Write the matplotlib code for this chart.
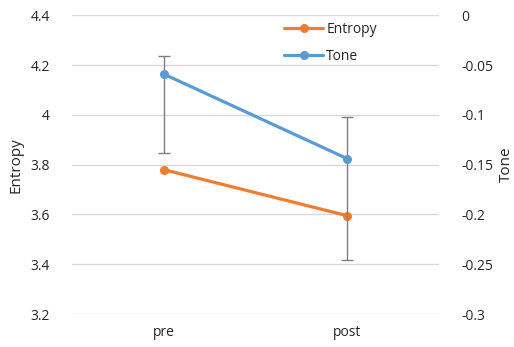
import matplotlib
matplotlib.use('Agg')
import matplotlib.pyplot as plt
from matplotlib.ticker import FuncFormatter

plt.rcParams['font.family'] = ['Open Sans', 'DejaVu Sans']

# data
phases       = ["pre", "post"]
entropy      = [3.78, 3.595]
tone         = [-0.059, -0.144]
tone_err_lo  = [0.0795, 0.1015]
tone_err_hi  = [0.018, 0.042]

entropy_ticks = [3.2, 3.4, 3.6, 3.8, 4.0, 4.2, 4.4]
tone_ticks    = [-0.3, -0.25, -0.2, -0.15, -0.1, -0.05, 0]

orange = "#ED7D31"
blue   = "#5B9BD5"
grid_c = "#D9D9D9"
text_c = "#262626"

fig = plt.figure(figsize=(5.14, 3.47), dpi=100)
ax1 = fig.add_axes([0.140, 0.095, 0.714, 0.861])
ax2 = ax1.twinx()

x = list(range(len(phases)))

ax1.plot(x, entropy, color=orange, lw=2.3, marker="o", ms=5.5, label="Entropy",
         solid_capstyle="round", zorder=3)
ax2.errorbar(x, tone, yerr=[tone_err_lo, tone_err_hi], fmt="none", ecolor="#7F7F7F",
             elinewidth=1.0, capsize=4, capthick=1.0, zorder=2)
ax2.plot(x, tone, color=blue, lw=2.3, marker="o", ms=5.5, label="Tone",
         solid_capstyle="round", zorder=3)

ax1.set_xlim(-0.5, 1.5)
ax1.set_ylim(3.2, 4.4)
ax2.set_ylim(-0.3, 0)
ax1.set_yticks(entropy_ticks)
ax2.set_yticks(tone_ticks)
fmt = FuncFormatter(lambda v, p: ("%g" % round(v, 3)))
ax1.yaxis.set_major_formatter(fmt)
ax2.yaxis.set_major_formatter(fmt)
ax1.set_xticks(x)
ax1.set_xticklabels(phases)

ax1.grid(axis="y", color=grid_c, lw=1.0)
ax1.set_axisbelow(True)
for a in (ax1, ax2):
  for s in a.spines.values():
    s.set_visible(False)
  a.tick_params(axis="both", length=0, labelsize=10, colors=text_c)
ax1.tick_params(axis="y", pad=16)
ax2.tick_params(axis="y", pad=16)
ax1.tick_params(axis="x", pad=8)

ax1.set_ylabel("Entropy", fontsize=11, color=text_c, labelpad=5)
ax2.set_ylabel("Tone", fontsize=11, color=text_c, rotation=90, labelpad=4)

h1, l1 = ax1.get_legend_handles_labels()
h2, l2 = ax2.get_legend_handles_labels()
ax2.legend(h1 + h2, l1 + l2, loc="upper left", bbox_to_anchor=(0.545, 1.02),
           frameon=False, fontsize=10, handlelength=2.8, handletextpad=0.2,
           labelspacing=0.85, labelcolor=text_c)

fig.savefig("out.png", dpi=100)
